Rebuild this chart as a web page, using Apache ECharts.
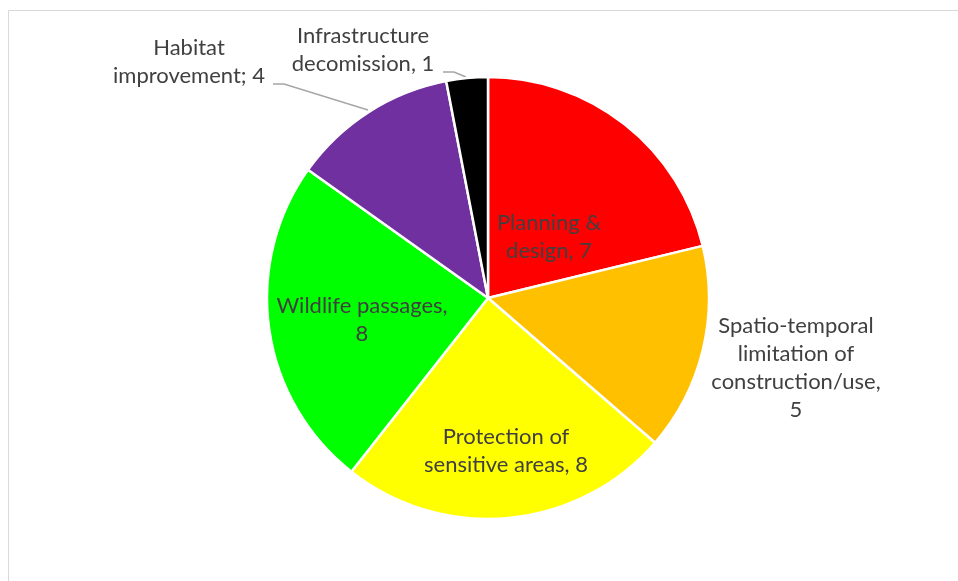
<!DOCTYPE html>
<html>
<head>
<meta charset="utf-8">
<script src="https://cdn.jsdelivr.net/npm/echarts@6/dist/echarts.min.js"></script>
<style>
  html, body { margin: 0; padding: 0; background: #fff; }
  #chart { width: 958px; height: 581px; }
</style>
</head>
<body>
<div id="chart"></div>
<script>
// categories and values, clockwise from 12 o'clock
const categories = [
  'Planning &\ndesign, 7',
  'Spatio-temporal\nlimitation of\nconstruction/use,\n5',
  'Protection of\nsensitive areas, 8',
  'Wildlife passages,\n8',
  'Habitat\nimprovement; 4',
  'Infrastructure\ndecomission, 1'
];
const values = [7, 5, 8, 8, 4, 1];
const colors = ['#FF0000', '#FFC000', '#FFFF00', '#00FF00', '#7030A0', '#000000'];

// where Excel put each label (centre of text block) and its leader line
const labelSpots = [
  { x: 549, y: 237 },
  { x: 796, y: 368 },
  { x: 506, y: 451 },
  { x: 362, y: 320 },
  { x: 189, y: 62, line: [[368, 110], [284, 84], [273, 84]] },
  { x: 363, y: 50, line: [[466, 77], [454, 72], [443, 72]] }
];

const chart = echarts.init(document.getElementById('chart'));

const option = {
  animation: false,
  graphic: [
    {
      type: 'rect',
      shape: { x: 8.5, y: 10.5, width: 1000, height: 1000 },
      style: { fill: 'none', stroke: '#D9D9D9', lineWidth: 1 },
      z: -1
    }
  ],
  series: [
    {
      type: 'pie',
      center: [488, 298],
      radius: 221,
      startAngle: 90,
      clockwise: true,
      itemStyle: { borderColor: '#fff', borderWidth: 2.5 },
      label: {
        show: true,
        position: 'outside',
        formatter: '{b}',
        color: '#404040',
        fontFamily: 'Lato',
        fontSize: 22,
        lineHeight: 28,
        align: 'center'
      },
      labelLine: {
        show: true,
        lineStyle: { color: '#A6A6A6', width: 1.5 }
      },
      labelLayout: function (params) {
        const s = labelSpots[params.dataIndex];
        const out = { x: s.x, y: s.y, align: 'center', verticalAlign: 'middle' };
        if (s.line) out.labelLinePoints = s.line;
        return out;
      },
      data: categories.map(function (name, i) {
        return {
          name: name,
          value: values[i],
          itemStyle: { color: colors[i] },
          labelLine: { show: !!labelSpots[i].line }
        };
      })
    }
  ]
};

chart.setOption(option);
</script>
</body>
</html>
